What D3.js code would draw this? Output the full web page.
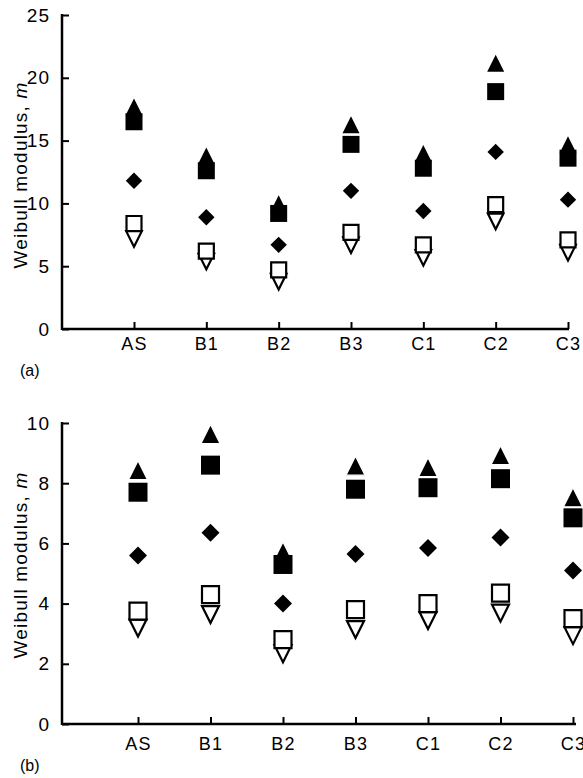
<!DOCTYPE html>
<html>
<head>
<meta charset="utf-8">
<script src="https://cdn.jsdelivr.net/npm/d3@7"></script>
<style>
  body { margin: 0; background: #fff; }
  text { font-family: "Liberation Sans", Arial, sans-serif; fill: #000; }
</style>
</head>
<body>
<div id="chart"></div>
<script>
// categories (both panels)
const categories = ['AS', 'B1', 'B2', 'B3', 'C1', 'C2', 'C3'];

// panel (a)
const aTicks = [0, 5, 10, 15, 20, 25];
const aTriUp    = [17.6, 13.7, 9.9, 16.2, 13.9, 21.1, 14.6];
const aSqFilled = [16.5, 12.6, 9.2, 14.7, 12.8, 18.9, 13.6];
const aDiamond  = [11.8, 8.9, 6.7, 11.0, 9.4, 14.1, 10.3];
const aSqOpen   = [8.4, 6.2, 4.7, 7.7, 6.7, 9.9, 7.1];
const aTriDown  = [7.2, 5.4, 3.8, 6.7, 5.7, 8.6, 6.1];

// panel (b)
const bTicks = [0, 2, 4, 6, 8, 10];
const bTriUp    = [8.4, 9.6, 5.7, 8.55, 8.5, 8.9, 7.5];
const bSqFilled = [7.7, 8.6, 5.3, 7.8, 7.85, 8.15, 6.85];
const bDiamond  = [5.6, 6.35, 4.0, 5.65, 5.85, 6.2, 5.1];
const bSqOpen   = [3.75, 4.3, 2.8, 3.8, 4.0, 4.35, 3.5];
const bTriDown  = [3.2, 3.65, 2.35, 3.15, 3.45, 3.7, 2.95];

const width = 583, height = 778;

const svg = d3.select('#chart').append('svg')
    .attr('width', width)
    .attr('height', height);

// marker shapes (custom symbol types, size = half width)
const shapes = {
  triUp: {draw(ctx, r) { ctx.moveTo(0, -r * 1.1); ctx.lineTo(r, r * 0.9); ctx.lineTo(-r, r * 0.9); ctx.closePath(); }},
  square: {draw(ctx, r) { ctx.rect(-r, -r, 2 * r, 2 * r); }},
  diamond: {draw(ctx, r) { ctx.moveTo(0, -r); ctx.lineTo(r, 0); ctx.lineTo(0, r); ctx.lineTo(-r, 0); ctx.closePath(); }},
  triDown: {draw(ctx, r) { ctx.moveTo(-r, -r * 0.95); ctx.lineTo(r, -r * 0.95); ctx.lineTo(0, r * 1.05); ctx.closePath(); }}
};

function panel(cfg) {
  const x = d3.scalePoint().domain(categories).range(cfg.xRange);
  const y = d3.scaleLinear().domain(cfg.yDomain).range(cfg.yRange);
  const g = svg.append('g');

  // y axis, ticks pointing inward
  const yAx = g.append('g')
      .attr('transform', `translate(${cfg.x0},0)`)
      .call(d3.axisRight(y).tickValues(cfg.ticks).tickSize(7).tickFormat(d3.format('d')));
  yAx.select('.domain').remove();
  yAx.selectAll('.tick line').attr('stroke', '#000').attr('stroke-width', 2);
  yAx.selectAll('.tick text')
      .attr('x', -12).attr('text-anchor', 'end')
      .style('font-size', '19px')
      .style('letter-spacing', '1px');
  g.append('line')
      .attr('x1', cfg.x0).attr('x2', cfg.x0)
      .attr('y1', cfg.yRange[1] - 1).attr('y2', cfg.yRange[0] + 1)
      .attr('stroke', '#000').attr('stroke-width', 2.5);

  // x axis, ticks pointing up
  const xAx = g.append('g')
      .attr('transform', `translate(0,${cfg.yRange[0]})`)
      .call(d3.axisTop(x).tickSize(7));
  xAx.select('.domain').remove();
  xAx.selectAll('.tick line').attr('stroke', '#000').attr('stroke-width', 2);
  xAx.selectAll('.tick text')
      .attr('y', cfg.labelOff).attr('dy', '0.71em')
      .style('font-size', '18px')
      .style('letter-spacing', '1.2px');
  g.append('line')
      .attr('x1', cfg.x0).attr('x2', cfg.xEnd)
      .attr('y1', cfg.yRange[0]).attr('y2', cfg.yRange[0])
      .attr('stroke', '#000').attr('stroke-width', 2.5);

  // y label
  g.append('text')
      .attr('transform', `translate(20,${cfg.labelY}) rotate(-90)`)
      .attr('text-anchor', 'middle')
      .attr('dy', '0.35em')
      .style('font-size', '19px')
      .style('letter-spacing', '1.2px')
      .html('Weibull modulus, <tspan font-style="italic">m</tspan>');

  g.append('text')
      .attr('x', 20).attr('y', cfg.tagY)
      .style('font-size', '16px')
      .text(cfg.tag);

  const k = cfg.mk;
  // filled triangle drawn under filled square so its white edge only shows as a thin gap
  const series = [
    {vals: cfg.triDown, shape: shapes.triDown, r: k[4], fill: '#fff', stroke: '#000', sw: 2.2},
    {vals: cfg.sqOpen, shape: shapes.square, r: k[3], fill: '#fff', stroke: '#000', sw: 2.2},
    {vals: cfg.diamond, shape: shapes.diamond, r: k[2], fill: '#000', stroke: 'none', sw: 0},
    {vals: cfg.triUp, shape: shapes.triUp, r: k[0], fill: '#000', stroke: cfg.gap ? '#fff' : 'none', sw: cfg.gap ? 1.2 : 0},
    {vals: cfg.sqFilled, shape: shapes.square, r: k[1], fill: '#000', stroke: 'none', sw: 0}
  ];

  series.forEach(s => {
    g.append('g').selectAll('path')
      .data(s.vals)
      .join('path')
        .attr('transform', (d, i) => `translate(${x(categories[i])},${y(d)})`)
        .attr('d', d3.symbol().type(s.shape).size(s.r))
        .attr('fill', s.fill)
        .attr('stroke', s.stroke)
        .attr('stroke-width', s.sw);
  });
}

panel({
  x0: 62, xRange: [134, 568], xEnd: 569,
  yDomain: [0, 25], yRange: [329, 15], ticks: aTicks,
  labelY: 175, labelOff: 8, tag: '(a)', tagY: 376,
  mk: [8.5, 8.5, 8.2, 7.5, 7.8], gap: false,
  triUp: aTriUp, sqFilled: aSqFilled, diamond: aDiamond, sqOpen: aSqOpen, triDown: aTriDown
});

panel({
  x0: 62, xRange: [138, 573], xEnd: 576,
  yDomain: [0, 10], yRange: [724, 423], ticks: bTicks,
  labelY: 565, labelOff: 13, tag: '(b)', tagY: 771,
  mk: [9.5, 9.5, 9, 8.5, 8.5], gap: true,
  triUp: bTriUp, sqFilled: bSqFilled, diamond: bDiamond, sqOpen: bSqOpen, triDown: bTriDown
});
</script>
</body>
</html>
